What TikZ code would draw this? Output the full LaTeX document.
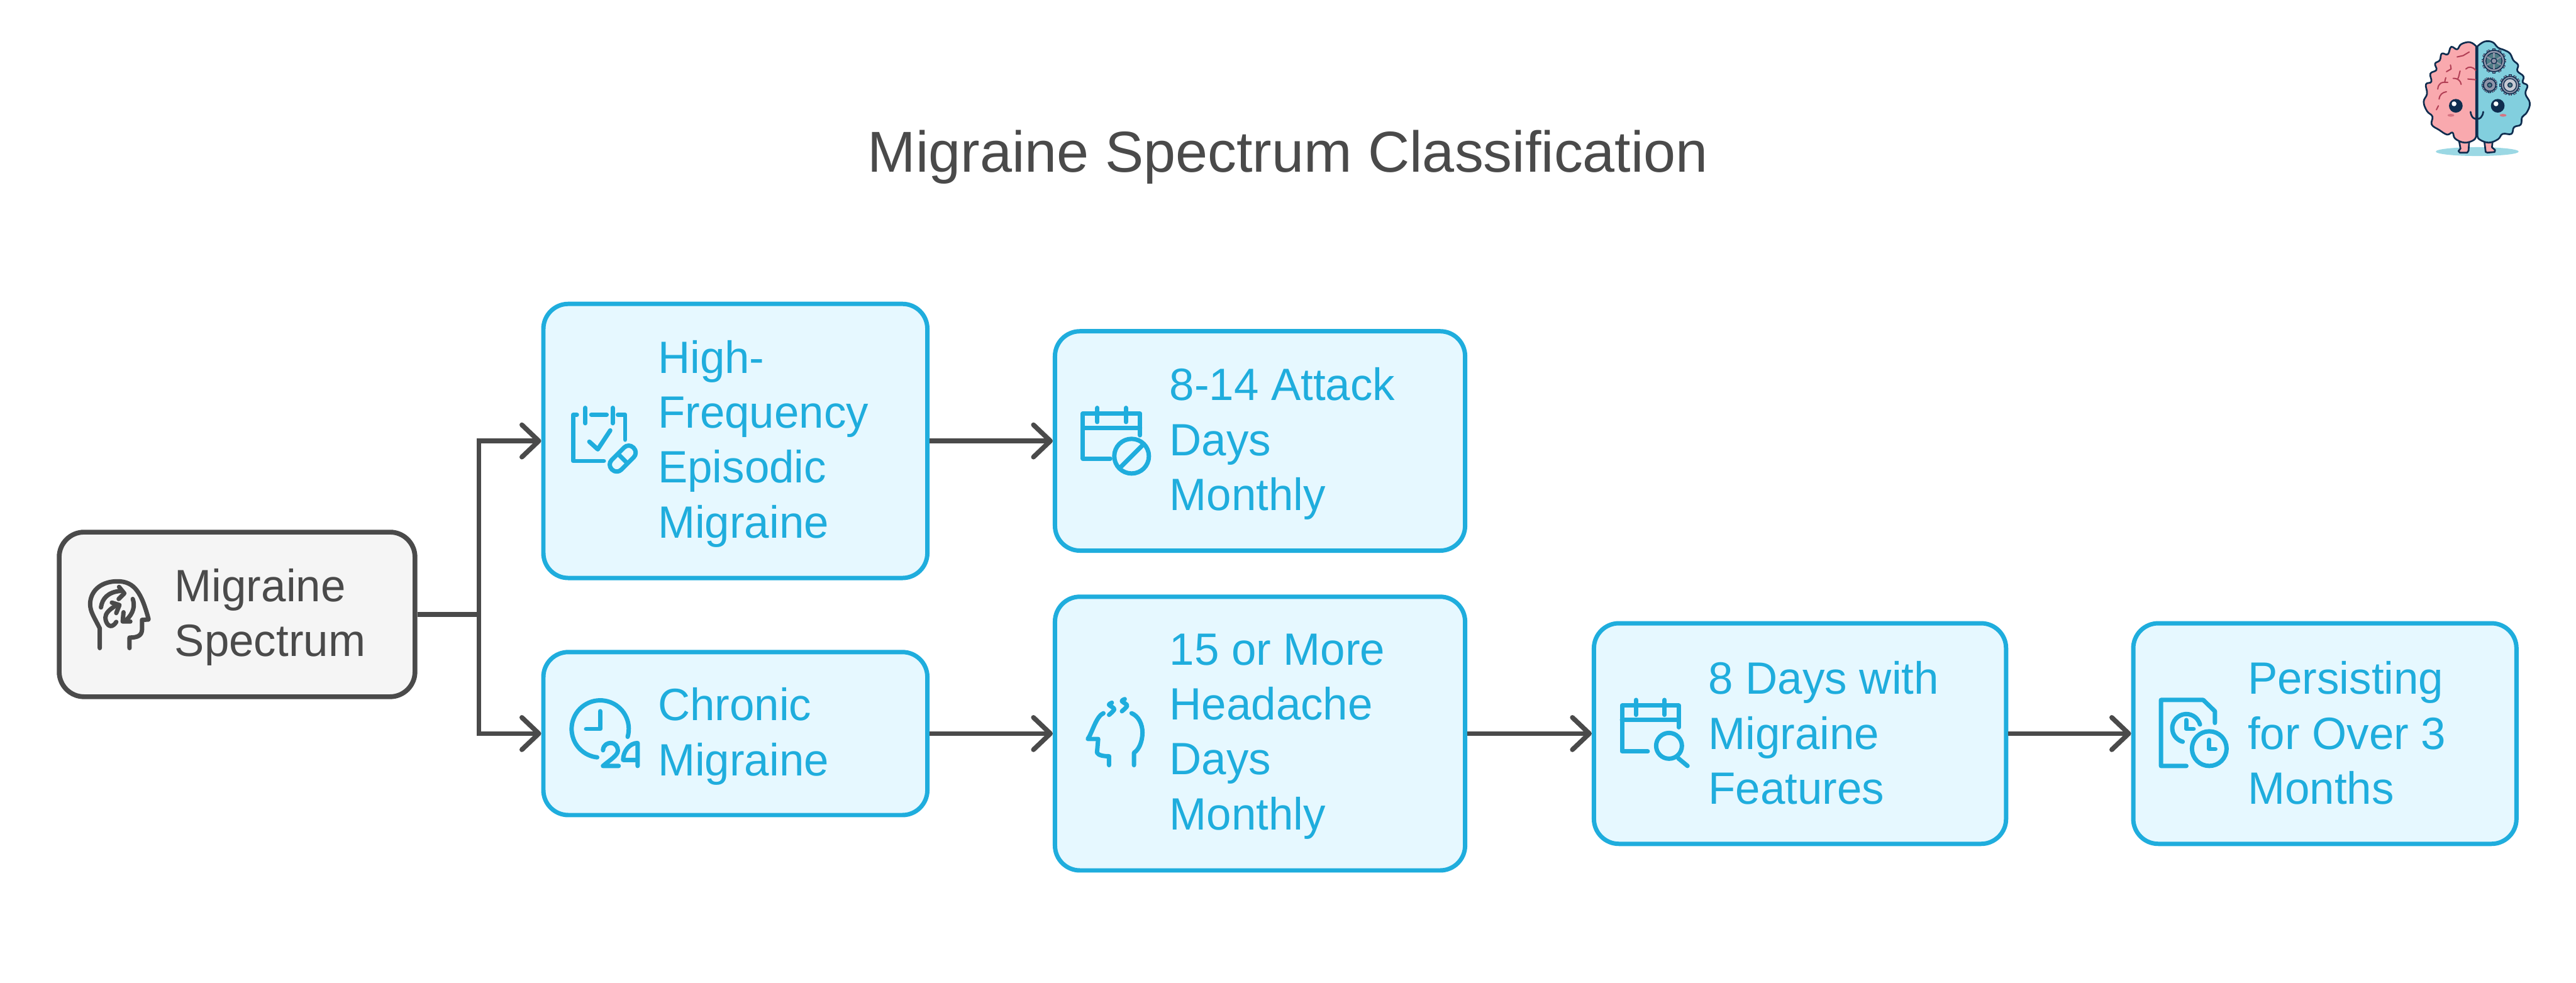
\documentclass[tikz,border=0pt]{standalone}
\usepackage{fontspec}
\usepackage{tikz}
\usetikzlibrary{arrows.meta}
\newfontfamily\blockfont[FakeStretch=0.985]{Liberation Sans}
\newfontfamily\titlefont[FakeStretch=1.0]{Liberation Sans}
\definecolor{inkgray}{HTML}{4A4A4A}
\definecolor{rootfill}{HTML}{F5F5F5}
\definecolor{skyline}{HTML}{1FADDD}
\definecolor{skyfill}{HTML}{E6F8FF}
\definecolor{brainink}{HTML}{0F2D4F}
\definecolor{brainpink}{HTML}{F9A9AE}
\definecolor{brainblue}{HTML}{82CFDE}
\definecolor{brainvein}{HTML}{B23F55}
\definecolor{gearfill}{HTML}{8E94A8}
\newcommand{\linestrut}{\rule[-5pt]{0pt}{32.4pt}}
\tikzset{
block/.style = {draw=skyline, fill=skyfill, rectangle, rounded corners=0.62cm, line width=3.1pt},
rootblock/.style = {draw=inkgray, fill=rootfill, rectangle, rounded corners=0.62cm, line width=3.4pt},
txt/.style = {anchor=west, inner sep=0pt, outer sep=0pt, align=left, text=skyline, yshift=-0.07cm, font=\blockfont\fontsize{32}{38.83}\selectfont,
  execute at begin node=\linestrut, execute at end node=\linestrut},
tmp/.style = {coordinate},
link/.style = {draw=inkgray, line width=3.4pt},
icon/.style = {draw=skyline, line width=3.1pt, line cap=round, line join=round},
vein/.style = {draw=brainvein, line width=0.9pt, line cap=round}
}
% one gear of the small brain
\newcommand{\braingear}[3]{
  \foreach \a in {0,30,...,330} \draw [brainink, line width=2.2pt] (#1,#2) ++(\a:#3) -- ++(\a:13);
  \foreach \a in {0,30,...,330} \draw [gearfill, line width=1.3pt] (#1,#2) ++(\a:#3) -- ++(\a:11);
  \draw [brainink, fill=gearfill, line width=0.7pt] (#1,#2) circle [radius=#3*0.00333cm];
}
\begin{document}
\begin{tikzpicture}[auto, node distance=2cm, >={Straight Barb[length=0.42cm, width=0.8cm, round]}]
    \useasboundingbox (0,0) rectangle (64,24.41);

    % the blocks
    \node at (5.89,9.145) [rootblock, minimum width=8.84cm, minimum height=4.09cm] (root) {};
    \node at (18.27,13.455) [block, minimum width=9.54cm, minimum height=6.81cm] (hfem) {};
    \node [block, below of=hfem, node distance=7.27cm, minimum width=9.54cm, minimum height=4.05cm] (chronic) {};
    \node [block, right of=hfem, node distance=13.035cm, minimum width=10.19cm, minimum height=5.45cm] (attack) {};
    \node [block, right of=chronic, node distance=13.035cm, minimum width=10.19cm, minimum height=6.8cm] (headache) {};
    \node [block, right of=headache, node distance=13.415cm, minimum width=10.24cm, minimum height=5.48cm] (features) {};
    \node [block, right of=features, node distance=13.04cm, minimum width=9.52cm, minimum height=5.48cm] (persist) {};
    \node [tmp, right of=root, node distance=6.01cm] (bus) {};

    % the texts
    \node at (32,20.58) [txt, anchor=center, text=inkgray, font=\titlefont\fontsize{40.8}{48}\selectfont] (title) {Migraine Spectrum Classification};
    \node at (root.west) [txt, xshift=2.93cm, text=inkgray] (roottxt) {Migraine\\Spectrum};
    \node at (hfem.west) [txt, xshift=2.9cm] (hfemtxt) {High-\\Frequency\\Episodic\\Migraine};
    \node at (chronic.west) [txt, xshift=2.9cm] (chronictxt) {Chronic\\Migraine};
    \node at (attack.west) [txt, xshift=2.9cm] (attacktxt) {8-14 Attack\\Days\\Monthly};
    \node at (headache.west) [txt, xshift=2.9cm] (headachetxt) {15 or More\\Headache\\Days\\Monthly};
    \node at (features.west) [txt, xshift=2.9cm] (featurestxt) {8 Days with\\Migraine\\Features};
    \node at (persist.west) [txt, xshift=2.9cm] (persisttxt) {Persisting\\for Over 3\\Months};

    % connecting them
    \draw [link] (root) -- (bus);
    \draw [link, ->] (bus) |- (hfem);
    \draw [link, ->] (bus) |- (chronic);
    \draw [link, ->] (hfem) -- (attack);
    \draw [link, ->] (chronic) -- (headache);
    \draw [link, ->] (headache) -- (features);
    \draw [link, ->] (features) -- (persist);

    % the icons, in pixels of the reference
    \begin{scope}[x=0.01cm, y=-0.01cm, yshift=24.41cm]
    % head with arrows
    \draw [icon, draw=inkgray] (248,1611) -- (248,1562) .. controls (232,1530) and (224,1520) .. (224,1500)
      .. controls (226,1465) and (255,1445) .. (292,1445) .. controls (335,1445) and (352,1475) .. (369,1538)
      -- (369,1540) -- (353,1541) -- (353,1566) .. controls (352,1580) and (342,1585) .. (322,1585) -- (322,1611);
    \draw [icon, draw=inkgray] (251,1510) .. controls (254,1488) and (268,1472) .. (299,1469);
    \draw [icon, draw=inkgray] (296,1459) -- (309,1475) -- (295,1489);
    \draw [icon, draw=inkgray] (289,1546) .. controls (275,1568) and (262,1550) .. (262,1535) .. controls (262,1525) and (272,1515) .. (287,1506);
    \draw [icon, draw=inkgray] (278,1498) -- (297,1504) -- (289,1524);
    \draw [icon, draw=inkgray] (330,1489) .. controls (336,1505) and (332,1525) .. (314,1541);
    \draw [icon, draw=inkgray] (307,1522) -- (305,1545) -- (324,1545);
    % calendar with pill
    \draw [icon] (1434,1031) -- (1425,1031) -- (1425,1146) -- (1501,1146);
    \draw [icon] (1470,1031) -- (1508,1031);
    \draw [icon] (1536,1031) -- (1554,1031) -- (1554,1093);
    \draw [icon] (1455,1014) -- (1455,1052);
    \draw [icon] (1523,1014) -- (1523,1052);
    \draw [icon] (1465,1098) -- (1486,1117) -- (1517,1070);
    \draw [icon, rotate around={45:(1548,1140)}, rounded corners=0.16cm] (1510,1123) rectangle (1586,1157);
    \draw [icon] (1537,1129) -- (1559,1151);
    % calendar with ban
    \draw [icon] (2760,1140) -- (2692,1140) -- (2692,1028) -- (2834,1028) -- (2834,1082);
    \draw [icon] (2692,1064) -- (2834,1064);
    \draw [icon] (2728,1014) -- (2728,1049);
    \draw [icon] (2799,1014) -- (2799,1049);
    \draw [icon] (2813,1134) circle [radius=0.43cm];
    \draw [icon] (2783,1164) -- (2843,1104);
    % clock with 24
    \draw [icon] ([shift={(-16:0.71cm)}]1492,1812) arc [start angle=-16, end angle=264, radius=0.71cm];
    \draw [icon] (1492,1768) -- (1492,1812) -- (1457,1812);
    \draw [icon] (1499,1865) .. controls (1500,1850) and (1512,1847) .. (1518,1847)
      .. controls (1530,1847) and (1536,1856) .. (1536,1866) .. controls (1536,1878) and (1515,1890) .. (1499,1904) -- (1538,1904);
    \draw [icon] (1585,1904) -- (1585,1847) .. controls (1565,1847) and (1549,1868) .. (1549,1889) -- (1585,1889);
    % head with steam
    \draw [icon] (2743,1773) .. controls (2725,1780) and (2715,1822) .. (2704,1837) -- (2730,1837)
      -- (2727,1871) .. controls (2730,1878) and (2745,1880) .. (2757,1880) -- (2757,1902);
    \draw [icon] (2813,1773) .. controls (2830,1780) and (2840,1800) .. (2840,1821) .. controls (2840,1845) and (2830,1865) .. (2819,1871) -- (2819,1902);
    \draw [icon] plot [smooth] coordinates {(2764,1747) (2757,1752) (2770,1763) (2757,1777)};
    \draw [icon] plot [smooth] coordinates {(2796,1738) (2789,1743) (2802,1754) (2789,1768)};
    % calendar with magnifier
    \draw [icon] (4096,1868) -- (4032,1868) -- (4032,1754) -- (4173,1754) -- (4173,1808);
    \draw [icon] (4032,1790) -- (4173,1790);
    \draw [icon] (4067,1740) -- (4067,1777);
    \draw [icon] (4138,1740) -- (4138,1777);
    \draw [icon] (4149,1854) circle [radius=0.32cm];
    \draw [icon] (4172,1885) -- (4195,1904);
    % document with clocks
    \draw [icon] (5435,1904) -- (5372,1904) -- (5372,1740) -- (5477,1740) -- (5506,1768) -- (5506,1797);
    \draw [icon] ([shift={(15:0.35cm)}]5435,1810) arc [start angle=15, end angle=255, radius=0.35cm];
    \draw [icon] (5435,1790) -- (5435,1812) -- (5453,1812);
    \draw [icon] (5492,1861) circle [radius=0.43cm];
    \draw [icon] (5492,1839) -- (5492,1862) -- (5507,1862);
    \end{scope}

    % the small brain, in pixels of a 3x crop
    \begin{scope}[x=0.00333cm, y=-0.00333cm, shift={(59.5cm,23.91cm)}, line join=round]
    \fill [brainblue!80] (615,982) ellipse [x radius=1.03cm, y radius=0.11cm];
    \draw [brainink, fill=brainpink, line width=1.2pt] (480,905) -- (490,960) -- (475,978) -- (485,990) -- (540,990) -- (550,975) -- (555,905) -- cycle;
    \draw [brainink, fill=brainpink, line width=1.2pt] (668,905) -- (678,985) -- (692,990) -- (745,985) -- (748,970) -- (725,950) -- (730,905) -- cycle;
    \draw [brainink, fill=brainpink, line width=1.2pt] plot [smooth, tension=0.7] coordinates {(607,195) (560,165) (495,180) (465,218) (420,200) (395,255) (350,250) (335,300) (300,325) (310,372) (265,400) (272,460) (232,480) (240,550) (215,610) (240,680) (280,720) (275,780) (330,820) (390,855) (430,840) (450,885) (520,915) (590,895) (607,860)} -- cycle;
    \draw [brainink, fill=brainblue, line width=1.2pt] plot [smooth, tension=0.7] coordinates {(617,195) (670,160) (730,165) (770,205) (820,225) (860,250) (885,300) (920,335) (915,380) (960,420) (955,465) (990,490) (975,550) (1008,620) (985,690) (950,725) (940,780) (890,800) (870,850) (805,850) (770,890) (700,915) (630,890) (617,860)} -- cycle;
    % veins
    \draw [vein] (465,275) -- (510,265) -- (555,238);
    \draw [vein] (385,385) -- (420,365) -- (415,335);
    \draw [vein] (530,365) .. controls (550,345) and (580,345) .. (603,375);
    \draw [vein] (435,435) .. controls (470,435) and (490,450) .. (495,480);
    \draw [vein] (470,438) .. controls (480,420) and (480,400) .. (487,380);
    \draw [vein] (320,515) .. controls (325,470) and (350,460) .. (395,465);
    \draw [vein] (380,430) -- (372,462);
    \draw [vein] (330,590) .. controls (335,555) and (355,540) .. (385,535);
    \draw [vein] (310,670) -- (325,640);
    \draw [vein] (545,440) -- (603,445);
    % gears
    \braingear{740}{305}{80}
    \draw [brainink, fill=brainblue!60!black, line width=0.6pt] (740,305) circle [radius=0.2cm];
    \foreach \a in {30,90,...,330} \draw [gearfill, line width=1pt] (740,305) -- ++(\a:60);
    \draw [brainink, fill=gearfill, line width=0.6pt] (740,305) circle [radius=0.07cm];
    \braingear{708}{485}{46}
    \draw [brainink, fill=brainblue!60!black, line width=0.6pt] (708,485) circle [radius=0.055cm];
    \braingear{860}{485}{66}
    \draw [brainink, fill=gearfill!50!white, line width=0.6pt] (860,485) circle [radius=0.16cm];
    \draw [brainink, fill=brainblue!60!black, line width=0.6pt] (860,485) circle [radius=0.055cm];
    % face
    \fill [brainink] (455,640) circle [radius=0.17cm];
    \fill [brainink] (768,640) circle [radius=0.17cm];
    \fill [white] (442,625) circle [radius=0.06cm];
    \fill [white] (755,625) circle [radius=0.06cm];
    \fill [brainvein!50!brainpink] (418,711) ellipse [x radius=0.085cm, y radius=0.035cm];
    \fill [brainvein!50!brainpink] (808,711) ellipse [x radius=0.085cm, y radius=0.035cm];
    \draw [brainink, line width=1.2pt, line cap=round] (565,685) .. controls (570,730) and (600,745) .. (612,735) .. controls (630,745) and (655,725) .. (660,685);
    \end{scope}
\end{tikzpicture}
\end{document}
